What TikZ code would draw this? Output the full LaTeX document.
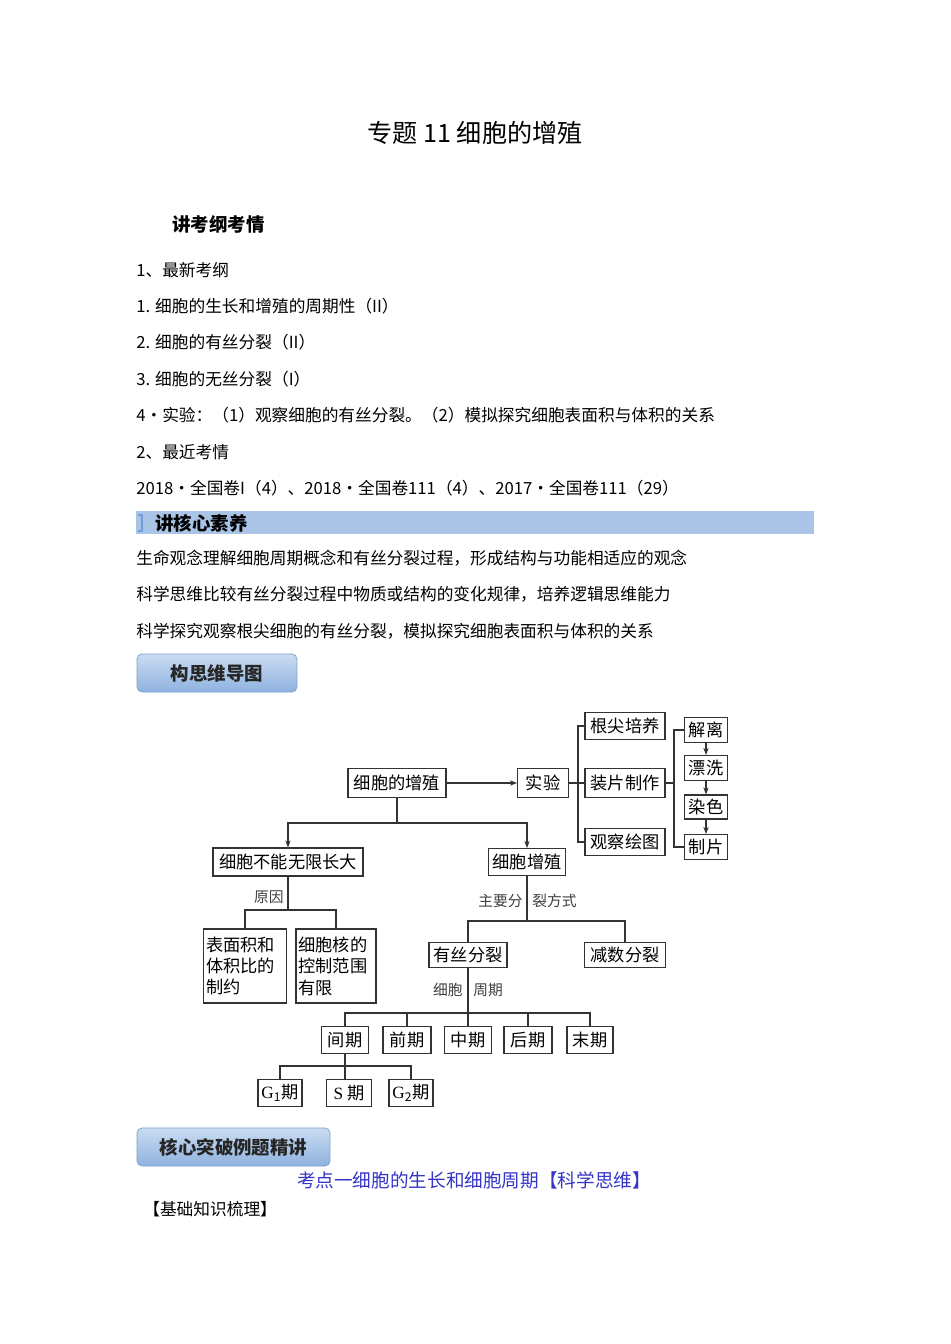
\documentclass[tikz,border=0pt]{standalone}
\usepackage{fontspec}
\setmainfont{Liberation Serif}
\newfontfamily\cjk{Noto Sans CJK SC}
\usetikzlibrary{arrows.meta,positioning,calc}
\definecolor{bandblue}{HTML}{A9C4E6}
\definecolor{bandmark}{HTML}{6F9BD6}
\definecolor{btntop}{HTML}{CADCF2}
\definecolor{btnbot}{HTML}{8FB2DF}
\definecolor{btnedge}{HTML}{7C9FCC}
\definecolor{headblue}{HTML}{3535C8}

\begin{document}
\begin{tikzpicture}[x=0.02cm,y=-0.02cm,
    txt/.style={anchor=west,inner sep=0pt,font=\cjk\fontsize{9.5pt}{11pt}\selectfont},
    box/.style={draw=black!80,line width=0.6pt,inner sep=1pt,font=\cjk\fontsize{9.8pt}{12.2pt}\selectfont},
    lbl/.style={inner sep=0pt,text=black!75,font=\cjk\fontsize{8.4pt}{10pt}\selectfont},
    btn/.style={draw=btnedge,rounded corners=0.1cm,top color=btntop,bottom color=btnbot,
        minimum height=0.76cm,font=\cjk\bfseries\fontsize{10.5pt}{12pt}\selectfont,text=black!85},
    link/.style={draw=black!80,line width=0.6pt},
    >={Stealth[length=4pt,width=3pt]}]
    \fill[white] (0,0) rectangle (950,1344);
    \useasboundingbox (0,0) rectangle (950,1344);

    % Title and syllabus
    \node[inner sep=0pt,font=\cjk\fontsize{14.3pt}{16pt}\selectfont] (title) at (475,133) {专题 11 细胞的增殖};
    \node[txt,font=\cjk\bfseries\fontsize{10.5pt}{12pt}\selectfont] (kg) at (172,224) {讲考纲考情};
    \node[txt] (l1) at (136,270) {1、最新考纲};
    \node[txt] (l2) at (136,306) {1. 细胞的生长和增殖的周期性（II）};
    \node[txt] (l3) at (136,342) {2. 细胞的有丝分裂（II）};
    \node[txt] (l4) at (136,379) {3. 细胞的无丝分裂（I）};
    \node[txt] (l5) at (136,415) {4•实验：（1）观察细胞的有丝分裂。（2）模拟探究细胞表面积与体积的关系};
    \node[txt] (l6) at (136,452) {2、最近考情};
    \node[txt] (l7) at (136,488) {2018•全国卷I（4）、2018•全国卷111（4）、2017•全国卷111（29）};

    % Core literacy band
    \fill[bandblue] (136,511) rectangle (814,534);
    \draw[bandmark,line width=0.8pt] (138,515) -- (142,515) -- (142,531) -- (138,531);
    \node[txt,font=\cjk\bfseries\fontsize{10.5pt}{12pt}\selectfont] (hx) at (155,523) {讲核心素养};
    \node[txt] (s1) at (136,558) {生命观念理解细胞周期概念和有丝分裂过程，形成结构与功能相适应的观念};
    \node[txt] (s2) at (136,594) {科学思维比较有丝分裂过程中物质或结构的变化规律，培养逻辑思维能力};
    \node[txt] (s3) at (136,631) {科学探究观察根尖细胞的有丝分裂，模拟探究细胞表面积与体积的关系};

    \node[btn,minimum width=3.2cm] (mind) at (217,673) {构思维导图};

    % Mind map boxes
    \node[box,minimum width=1.96cm,minimum height=0.58cm] (zz) at (397,783) {细胞的增殖};
    \node[box,minimum width=1.02cm,minimum height=0.58cm] (sy) at (543,783) {实验};
    \node[box,minimum width=1.6cm,minimum height=0.54cm] (gp) at (625,726) {根尖培养};
    \node[box,minimum width=1.6cm,minimum height=0.58cm] (gj) at (625,783) {装片制作};
    \node[box,minimum width=1.6cm,minimum height=0.54cm] (gc) at (625,842) {观察绘图};
    \node[box,minimum width=0.86cm,minimum height=0.5cm] (jl) at (706,730) {解离};
    \node[box,minimum width=0.86cm,minimum height=0.5cm] (px) at (706,768) {漂洗};
    \node[box,minimum width=0.86cm,minimum height=0.48cm] (rs) at (706,807) {染色};
    \node[box,minimum width=0.86cm,minimum height=0.5cm] (zp) at (706,847) {制片};

    \node[box,minimum width=3.0cm,minimum height=0.56cm] (bn) at (288,862) {细胞不能无限长大};
    \node[box,align=left,text width=1.56cm,inner xsep=0.05cm,minimum height=1.48cm] (m1) at (245,966) {表面积和\\体积比的\\制约};
    \node[box,align=left,text width=1.5cm,inner xsep=0.05cm,minimum height=1.48cm] (m2) at (336,966) {细胞核的\\控制范围\\有限};

    \node[box,minimum width=1.54cm,minimum height=0.54cm] (zs) at (527,862) {细胞增殖};
    \node[box,minimum width=1.56cm,minimum height=0.5cm] (ys) at (468,955) {有丝分裂};
    \node[box,minimum width=1.62cm,minimum height=0.5cm] (js) at (625,955) {减数分裂};

    \node[box,minimum width=0.94cm,minimum height=0.54cm] (jq) at (345,1040) {间期};
    \node[box,minimum width=0.96cm,minimum height=0.54cm] (qq) at (407,1040) {前期};
    \node[box,minimum width=0.94cm,minimum height=0.54cm] (zq) at (468,1040) {中期};
    \node[box,minimum width=0.96cm,minimum height=0.54cm] (hq) at (528,1040) {后期};
    \node[box,minimum width=0.92cm,minimum height=0.54cm] (mq) at (590,1040) {末期};

    \node[box,minimum width=0.88cm,minimum height=0.54cm] (g1) at (280,1093) {\textrm{G}\textsubscript{1}期};
    \node[box,minimum width=0.9cm,minimum height=0.54cm] (sq) at (349,1093) {\textrm{S} 期};
    \node[box,minimum width=0.88cm,minimum height=0.54cm] (g2) at (411,1093) {\textrm{G}\textsubscript{2}期};

    % Edge labels
    \node[lbl,anchor=east] (yy) at (284,897) {原因};
    \node[lbl,anchor=east] (fs1) at (523,901) {主要分};
    \node[lbl,anchor=west] (fs2) at (532,901) {裂方式};
    \node[lbl,anchor=east] (zq1) at (463,990) {细胞};
    \node[lbl,anchor=west] (zq2) at (473,990) {周期};

    % Junctions
    \coordinate (j1) at (zz.south |- 0,823);
    \coordinate (b1) at (578,783);
    \coordinate (b2) at (674,783);
    \coordinate (r1) at (bn.south |- 0,910);
    \coordinate (r2) at (zs.south |- 0,921);
    \coordinate (r3) at (ys.south |- 0,1013);
    \coordinate (r4) at (jq.south |- 0,1066);

    % Connectors
    \draw[link,->] (zz) -- (sy);
    \draw[link] (zz.south) -- (j1);
    \draw[link,->] (j1) -| (bn.north);
    \draw[link,->] (j1) -| (zs.north);

    \draw[link] (sy.east) -- (gj.west);
    \draw[link] (gp.west) -| (b1) |- (gc.west);
    \draw[link] (gj.east) -- (b2);
    \draw[link] (jl.west) -| (b2) |- (zp.west);
    \draw[link,->] (jl) -- (px);
    \draw[link,->] (px) -- (rs);
    \draw[link,->] (rs) -- (zp);

    \draw[link] (bn.south) -- (r1);
    \draw[link] (m1.north) |- (r1) -| (m2.north);

    \draw[link] (zs.south) -- (r2);
    \draw[link] (ys.north) |- (r2) -| (js.north);

    \draw[link] (ys.south) -- (zq.north);
    \draw[link] (jq.north) |- (r3) -| (mq.north);
    \foreach \n in {qq,hq}
        \draw[link] (\n.north) -- (\n.north |- r3);

    \draw[link] (jq.south) -- (jq.south |- sq.north);
    \draw[link] (g1.north) |- (r4) -| (g2.north);

    % Bottom headings
    \node[btn,minimum width=3.86cm] (core) at (233.5,1147) {核心突破例题精讲};
    \node[inner sep=0pt,text=headblue,font=\cjk\fontsize{10.6pt}{12pt}\selectfont] (kd) at (474,1180) {考点一细胞的生长和细胞周期【科学思维】};
    \node[txt] (jc) at (143,1209) {【基础知识梳理】};
\end{tikzpicture}
\end{document}
